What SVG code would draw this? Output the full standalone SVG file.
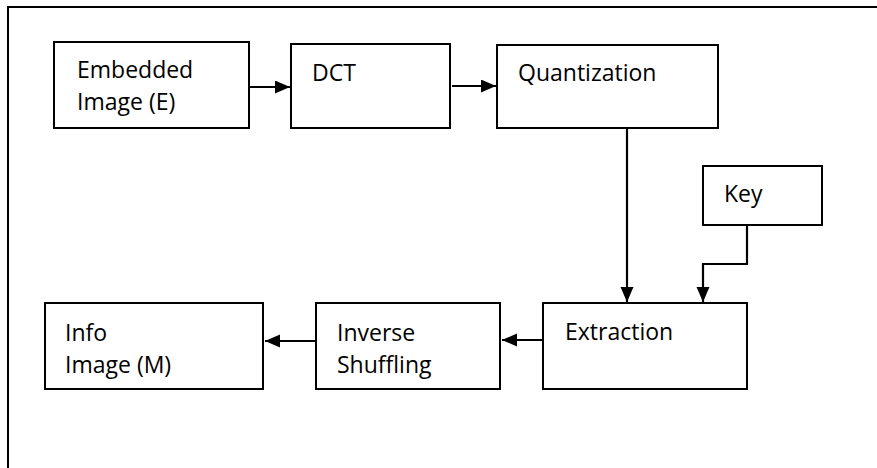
<svg xmlns="http://www.w3.org/2000/svg" width="877" height="468" viewBox="0 0 877 468">
<style>
.box{fill:#fff;stroke:#000;stroke-width:2}
.lbl{font-family:"Open Sans","Noto Sans",sans-serif;font-size:23px;fill:#000}
.con{fill:none;stroke:#000;stroke-width:2.2}
</style>
<defs>
<marker id="ah" markerUnits="userSpaceOnUse" markerWidth="16" markerHeight="14" refX="15" refY="6.5" orient="auto">
<path d="M0,0 L15,6.5 L0,13 z" fill="#000"/>
</marker>
</defs>
<rect x="0" y="0" width="877" height="468" fill="#fff"/>
<path d="M8,468 L8,7 L877,7" fill="none" stroke="#000" stroke-width="2"/>
<g id="embedded">
<rect class="box" x="54" y="42" width="195" height="86"/>
<text class="lbl" x="77" y="78">Embedded</text>
<text class="lbl" x="77" y="110">Image (E)</text>
</g>
<g id="dct">
<rect class="box" x="291" y="44" width="159" height="84"/>
<text class="lbl" x="312" y="81">DCT</text>
</g>
<g id="quantization">
<rect class="box" x="497" y="45" width="221" height="83"/>
<text class="lbl" x="518" y="81">Quantization</text>
</g>
<g id="key">
<rect class="box" x="703" y="166" width="119" height="59"/>
<text class="lbl" x="724" y="202">Key</text>
</g>
<g id="extraction">
<rect class="box" x="543" y="303" width="204" height="86"/>
<text class="lbl" x="565" y="340">Extraction</text>
</g>
<g id="inverse">
<rect class="box" x="316" y="303" width="184" height="86"/>
<text class="lbl" x="337" y="341">Inverse</text>
<text class="lbl" x="337" y="373">Shuffling</text>
</g>
<g id="info">
<rect class="box" x="45" y="303" width="218" height="86"/>
<text class="lbl" x="65" y="341">Info</text>
<text class="lbl" x="65" y="373">Image (M)</text>
</g>
<g id="connectors">
<path class="con" d="M249,87 L290,87" marker-end="url(#ah)"/>
<path class="con" d="M452,86 L496,86" marker-end="url(#ah)"/>
<path class="con" d="M627,128 L627,302" marker-end="url(#ah)"/>
<path class="con" d="M747,225 L747,264 L703,264 L703,302" marker-end="url(#ah)"/>
<path class="con" d="M543,340 L502,340" marker-end="url(#ah)"/>
<path class="con" d="M316,341 L265,341" marker-end="url(#ah)"/>
</g>
</svg>
